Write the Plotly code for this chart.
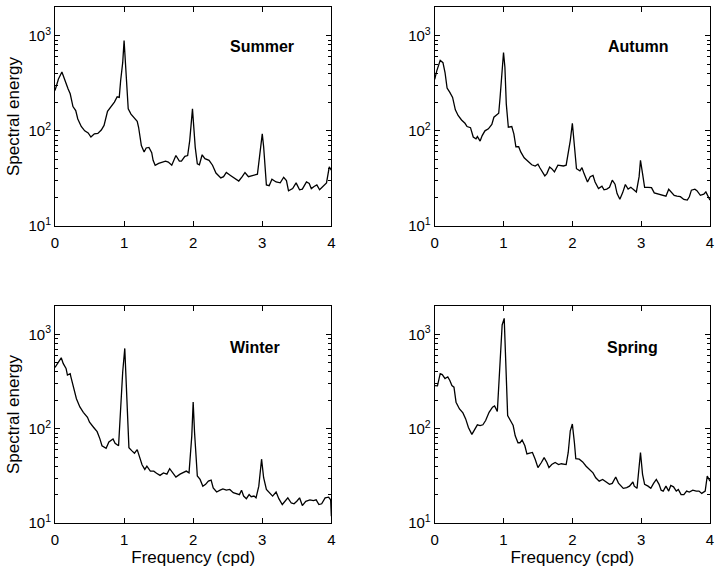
import plotly.graph_objects as go

# Seasonal spectra of the record, frequency in cycles per day
freq_summer = [0.00, 0.05, 0.10, 0.14, 0.19, 0.22, 0.26, 0.30, 0.33, 0.38, 0.43, 0.48, 0.52, 0.57,
               0.62, 0.67, 0.71, 0.76, 0.81, 0.86, 0.90, 0.93, 0.95, 0.98, 1.00, 1.01, 1.04, 1.06,
               1.10, 1.14, 1.19, 1.21, 1.25, 1.29, 1.32, 1.36, 1.40, 1.42, 1.45, 1.50, 1.55, 1.60,
               1.64, 1.69, 1.75, 1.80, 1.83, 1.88, 1.92, 1.95, 1.99, 2.01, 2.03, 2.06, 2.09, 2.13,
               2.17, 2.23, 2.28, 2.33, 2.40, 2.44, 2.48, 2.54, 2.60, 2.66, 2.71, 2.75, 2.80, 2.86,
               2.93, 2.96, 3.00, 3.02, 3.06, 3.10, 3.14, 3.20, 3.26, 3.31, 3.35, 3.38, 3.44, 3.49,
               3.54, 3.58, 3.64, 3.68, 3.71, 3.75, 3.79, 3.83, 3.87, 3.93, 3.97, 4.00]
energy_summer = [265, 350, 415, 340, 275, 245, 180, 163, 133, 111, 100, 95, 86, 93,
                 94, 102, 114, 160, 177, 200, 228, 225, 336, 520, 890, 665, 365, 170,
                 150, 139, 126, 109, 70, 60, 66, 67, 59, 49, 43.5, 45.5, 47, 48,
                 47, 43.5, 55, 48, 48, 54, 55, 79, 170, 110, 67, 45, 44, 56,
                 51, 49, 43.5, 36, 32, 33, 36.5, 34, 32, 29.7, 33, 36.5, 33, 34,
                 35, 53, 93, 68, 27, 26.5, 31, 29, 28.4, 32.5, 30, 23.4, 24.7, 28.4,
                 24, 24.4, 29, 28, 24.7, 26, 27, 24, 25.5, 28.4, 41.7, 38.5]

freq_autumn = [0.00, 0.03, 0.08, 0.12, 0.15, 0.18, 0.22, 0.26, 0.30, 0.34, 0.39, 0.44, 0.47, 0.52,
               0.56, 0.60, 0.62, 0.66, 0.69, 0.73, 0.78, 0.83, 0.86, 0.93, 0.95, 0.98, 1.00, 1.02,
               1.04, 1.07, 1.12, 1.15, 1.18, 1.22, 1.25, 1.30, 1.36, 1.41, 1.46, 1.50, 1.53, 1.58,
               1.60, 1.63, 1.67, 1.70, 1.74, 1.79, 1.83, 1.87, 1.91, 1.93, 1.97, 2.00, 2.03, 2.06,
               2.11, 2.14, 2.17, 2.22, 2.26, 2.30, 2.33, 2.38, 2.43, 2.46, 2.50, 2.54, 2.58, 2.62,
               2.65, 2.69, 2.73, 2.77, 2.81, 2.85, 2.88, 2.93, 2.97, 2.99, 3.02, 3.05, 3.10, 3.15,
               3.19, 3.24, 3.31, 3.36, 3.40, 3.43, 3.48, 3.52, 3.57, 3.62, 3.67, 3.70, 3.73, 3.78,
               3.81, 3.86, 3.91, 3.94, 3.97, 4.00]
energy_autumn = [348, 426, 550, 520, 410, 282, 253, 224, 166, 145, 130, 120, 111, 108,
                 86, 82.5, 87, 78, 89, 100, 105, 117, 139, 153, 224, 445, 665, 465,
                 192, 109, 111, 93, 68, 68, 60, 52, 47, 44, 42.7, 44.5, 40.7, 35.5,
                 33.6, 35.5, 41.7, 40, 37, 43.5, 42.7, 42.7, 43.5, 53, 79, 120, 73, 40,
                 38, 41, 35.5, 29, 33, 34, 29, 24.7, 26.2, 24, 24.4, 25.5, 30.3, 27.5,
                 21.9, 19.1, 22.3, 27.3, 24.4, 25.5, 24.4, 22.8, 33, 49, 35.5, 25.5, 25.5, 25.3,
                 22.3, 21.9, 21, 20.6, 24.3, 22.8, 21, 20.6, 20.3, 19, 18.7, 20.3, 23.8, 24.4,
                 23.5, 21, 21.6, 22.8, 20.6, 18.7]

freq_winter = [0.00, 0.05, 0.09, 0.12, 0.16, 0.18, 0.22, 0.23, 0.28, 0.31, 0.36, 0.41, 0.47, 0.50,
               0.56, 0.61, 0.65, 0.68, 0.74, 0.78, 0.84, 0.87, 0.92, 0.95, 0.98, 1.01, 1.03, 1.07,
               1.11, 1.15, 1.19, 1.22, 1.26, 1.30, 1.33, 1.38, 1.43, 1.47, 1.52, 1.57, 1.62, 1.66,
               1.70, 1.75, 1.81, 1.86, 1.90, 1.94, 1.98, 2.00, 2.02, 2.06, 2.10, 2.14, 2.18, 2.22,
               2.26, 2.29, 2.34, 2.39, 2.43, 2.48, 2.53, 2.58, 2.63, 2.67, 2.70, 2.73, 2.77, 2.81,
               2.84, 2.88, 2.91, 2.95, 2.99, 3.02, 3.06, 3.11, 3.15, 3.20, 3.24, 3.29, 3.34, 3.37,
               3.42, 3.46, 3.50, 3.54, 3.58, 3.63, 3.69, 3.74, 3.78, 3.82, 3.86, 3.91, 3.96, 3.99,
               4.00]
energy_winter = [447, 510, 565, 490, 436, 370, 383, 355, 245, 208, 170, 149, 132, 117,
                 103, 93, 78, 66, 62, 72.5, 78, 70, 66, 162, 400, 710, 310, 63,
                 58.5, 55, 60, 51, 41.5, 37, 40, 35.5, 35.5, 33.7, 32, 34, 33, 37.7,
                 34, 30.7, 33, 34.7, 35.5, 34, 84, 192, 91, 31.5, 29, 24.5, 25.7, 27.8,
                 28.5, 23.6, 21.3, 22.3, 23, 22.3, 22.7, 21, 20.6, 20, 22.3, 19.3, 18.1, 20,
                 19, 19.3, 18.5, 24.6, 47.5, 30.2, 22.7, 20.6, 19.3, 21.3, 18.1, 15.7, 17.5, 18.5,
                 16.3, 16, 17, 18.5, 15.3, 17, 17.6, 17.3, 17.6, 15.7, 16, 18.5, 18.8, 17.6,
                 11.8]

freq_spring = [0.00, 0.04, 0.08, 0.11, 0.15, 0.19, 0.22, 0.25, 0.28, 0.31, 0.36, 0.41, 0.45, 0.49,
               0.54, 0.58, 0.62, 0.66, 0.70, 0.74, 0.79, 0.84, 0.87, 0.91, 0.93, 0.96, 0.98, 1.01,
               1.03, 1.06, 1.10, 1.14, 1.17, 1.21, 1.24, 1.27, 1.31, 1.34, 1.38, 1.42, 1.46, 1.50,
               1.55, 1.59, 1.63, 1.66, 1.70, 1.75, 1.80, 1.84, 1.91, 1.94, 1.97, 2.00, 2.03, 2.05,
               2.10, 2.15, 2.20, 2.25, 2.30, 2.34, 2.39, 2.44, 2.49, 2.54, 2.58, 2.63, 2.67, 2.71,
               2.74, 2.79, 2.83, 2.88, 2.90, 2.94, 2.97, 2.99, 3.02, 3.05, 3.10, 3.14, 3.18, 3.22,
               3.26, 3.29, 3.32, 3.36, 3.40, 3.43, 3.47, 3.51, 3.54, 3.58, 3.62, 3.66, 3.70, 3.75,
               3.80, 3.84, 3.88, 3.93, 3.96, 4.00]
energy_spring = [287, 285, 383, 375, 340, 355, 325, 287, 276, 191, 162, 147, 127, 103,
                 87, 99, 110, 108, 110, 122, 149, 169, 174, 152, 265, 650, 1260, 1480,
                 650, 138, 122, 108, 84, 71, 71, 76, 66, 54, 55, 56, 47.5, 38.7,
                 43.8, 49.4, 43.8, 38.7, 41.7, 43.8, 41.7, 42.5, 41.7, 56, 95, 112, 71, 48,
                 47.5, 44.5, 40, 37, 34, 30.2, 27.8, 29, 27.2, 25.7, 26.3, 30.7, 26.5, 24.2,
                 23.3, 23.7, 24.6, 27.2, 24.6, 23.3, 37, 56, 32.8, 25.7, 24.6, 23.3, 26.3, 29,
                 25.7, 22.3, 21.8, 24.6, 21.8, 25, 24.2, 21.8, 22.7, 20, 20, 21.8, 21.3, 22.3,
                 21.8, 21.8, 20.6, 21.8, 31.5, 27.8]

seasons = ["Summer", "Autumn", "Winter", "Spring"]
series = [(freq_summer, energy_summer), (freq_autumn, energy_autumn),
          (freq_winter, energy_winter), (freq_spring, energy_spring)]

x_ticks = [0, 1, 2, 3, 4]
y_ticks = [10, 100, 1000]
y_tick_text = ["10<sup>1</sup>", "10<sup>2</sup>", "10<sup>3</sup>"]
y_minor = [v * m for v in (10, 100, 1000) for m in range(2, 10) if v * m <= 2000]

FONT = "Liberation Sans, Arial, Helvetica, sans-serif"

# panel layout: (x domain, y domain)
x_domains = [[0.0, 0.4219], [0.5797, 1.0]]
y_domains = [[0.5756, 1.0], [0.0, 0.4205]]

fig = go.Figure()
layout = dict(
    width=715, height=574,
    margin=dict(l=55, r=1, t=7, b=51),
    paper_bgcolor="white", plot_bgcolor="white",
    showlegend=False,
    font=dict(family=FONT, size=15, color="black"),
)

label_pos = [(0.75, 0.82), (0.74, 0.82), (0.725, 0.81), (0.72, 0.81)]
annotations = []

for i, (name, (fx, ey)) in enumerate(zip(seasons, series)):
    row, col = divmod(i, 2)
    n = i + 1
    xa = "x" if n == 1 else f"x{n}"
    ya = "y" if n == 1 else f"y{n}"
    fig.add_trace(go.Scatter(x=fx, y=ey, mode="lines", xaxis=xa, yaxis=ya,
                             line=dict(color="black", width=1.3)))
    xkey = "xaxis" if n == 1 else f"xaxis{n}"
    ykey = "yaxis" if n == 1 else f"yaxis{n}"
    layout[xkey] = dict(
        domain=x_domains[col], anchor=ya, range=[0, 4],
        tickmode="array", tickvals=x_ticks, ticks="inside", ticklen=5,
        tickcolor="black", showline=True, linecolor="black", linewidth=1,
        mirror="ticks", showgrid=False, zeroline=False,
        tickfont=dict(size=15), ticklabelstandoff=3,
        title=dict(text="Frequency (cpd)" if row == 1 else "",
                   font=dict(size=17), standoff=1),
    )
    layout[ykey] = dict(
        domain=y_domains[row], anchor=xa, type="log", range=[1, 3.301],
        tickmode="array", tickvals=y_ticks, ticktext=y_tick_text,
        ticks="inside", ticklen=5, tickcolor="black",
        minor=dict(tickmode="array", tickvals=y_minor, ticks="inside",
                   ticklen=3, tickcolor="black", showgrid=False),
        showline=True, linecolor="black", linewidth=1, mirror="ticks",
        showgrid=False, zeroline=False, tickfont=dict(size=15),
        title=dict(text="Spectral energy" if col == 0 else "",
                   font=dict(size=17), standoff=4),
    )
    lx, ly = label_pos[i]
    annotations.append(dict(
        text=f"<b>{name}</b>", xref=f"{xa} domain", yref=f"{ya} domain",
        x=lx, y=ly, xanchor="center", yanchor="middle", showarrow=False,
        font=dict(family=FONT, size=16, color="black"),
    ))

layout["annotations"] = annotations
fig.update_layout(**layout)
fig.write_html("out.html")
